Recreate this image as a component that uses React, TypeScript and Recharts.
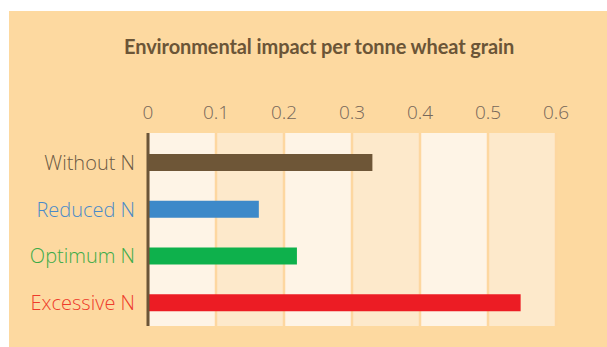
import React from 'react'
import { BarChart, Bar, XAxis, YAxis, Cell, CartesianGrid, ReferenceLine } from 'recharts'

const categories = ['Without N', 'Reduced N', 'Optimum N', 'Excessive N']
const impact = [0.33, 0.163, 0.219, 0.548]
const barColors = ['#6e5637', '#3d89c9', '#0eb14c', '#ec1c24']
const labelColors = ['#6b5a44', '#4a8ac9', '#3cab48', '#ee3b2b']
const xTicks = [0, 0.1, 0.2, 0.3, 0.4, 0.5, 0.6]

const data = categories.map((name, i) => ({ name, value: impact[i] }))

const FONT = '"Open Sans", sans-serif'

function CategoryTick(props: any) {
  const { x, y, payload, index } = props
  return (
    <text
      x={x - 5}
      y={y}
      textAnchor="end"
      dominantBaseline="central"
      fontFamily={FONT}
      fontWeight={300}
      fontSize={20}
      fill={labelColors[index] ?? '#6b5a44'}
    >
      {payload.value}
    </text>
  )
}

export default function App() {
  return (
    <div style={{ position: 'absolute', left: 0, top: 0, width: 607, height: 347, background: '#ffffff' }}>
      <div
        style={{
          position: 'absolute',
          left: 9,
          top: 11,
          width: 598,
          height: 336,
          background: '#fdd9a0',
        }}
      />
      <div
        style={{
          position: 'absolute',
          left: 124,
          top: 34,
          fontFamily: 'Lato, sans-serif',
          fontWeight: 700,
          fontSize: 20,
          color: '#6b5537',
          whiteSpace: 'nowrap',
          letterSpacing: -0.1,
        }}
      >
        Environmental impact per tonne wheat grain
      </div>
      <div style={{ position: 'absolute', left: 0, top: 0 }}>
        <BarChart
          width={607}
          height={347}
          data={data}
          layout="vertical"
          margin={{ top: 90, right: 51, bottom: 21, left: 0 }}
        >
          <CartesianGrid
            horizontal={false}
            vertical
            stroke="#fdd7a0"
            strokeWidth={2.5}
            verticalFill={['#fef4e6', '#fde9cb']}
            fillOpacity={1}
          />
          <XAxis
            type="number"
            orientation="top"
            domain={[0, 0.6]}
            ticks={xTicks}
            height={43}
            axisLine={false}
            tickLine={false}
            tickSize={0}
            tickMargin={14}
            tick={{ fontFamily: FONT, fontWeight: 300, fontSize: 19, fill: '#76675a' }}
            interval={0}
          />
          <YAxis
            type="category"
            dataKey="name"
            width={148}
            axisLine={false}
            tickLine={false}
            padding={{ top: 6, bottom: 0 }}
            tick={<CategoryTick />}
            interval={0}
          />
          <Bar dataKey="value" barSize={17} isAnimationActive={false}>
            {data.map((d, i) => (
              <Cell key={d.name} fill={barColors[i]} />
            ))}
          </Bar>
          <ReferenceLine x={0} stroke="#6b5537" strokeWidth={3} />
        </BarChart>
      </div>
    </div>
  )
}
